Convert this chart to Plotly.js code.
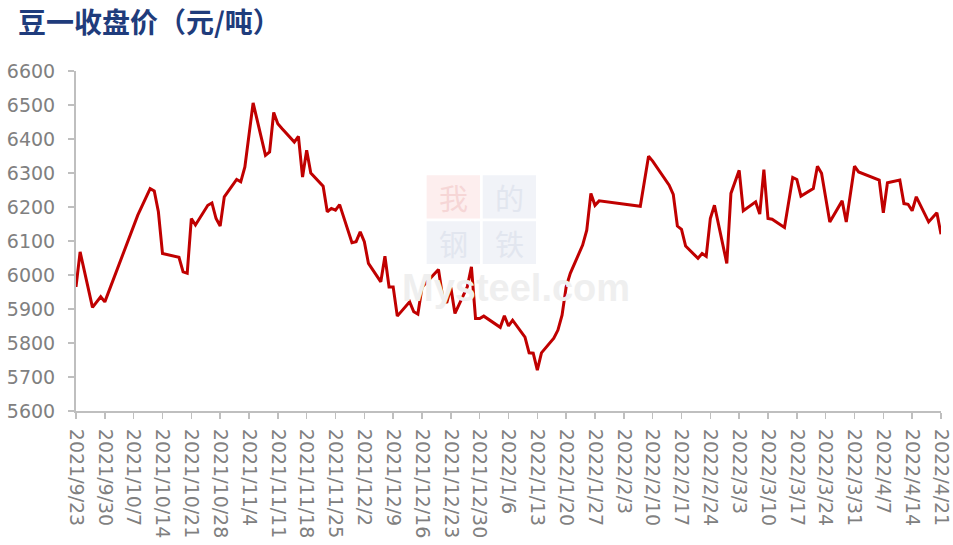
<!DOCTYPE html>
<html>
<head>
<meta charset="utf-8">
<script src="https://cdn.plot.ly/plotly-3.0.1.min.js"></script>
<style>
  html, body { margin: 0; padding: 0; background: #ffffff; }
  #chart { width: 953px; height: 545px; }
</style>
</head>
<body>
<div id="chart"></div>
<script>
// ---- Data ----
const chartTitle = "豆一收盘价（元/吨）";

const dates = [
  "2021-09-23","2021-09-24","2021-09-27","2021-09-29","2021-09-30",
  "2021-10-08","2021-10-11","2021-10-12","2021-10-13","2021-10-14",
  "2021-10-18","2021-10-19","2021-10-20","2021-10-21","2021-10-22",
  "2021-10-25","2021-10-26","2021-10-27","2021-10-28","2021-10-29",
  "2021-11-01","2021-11-02","2021-11-03","2021-11-05",
  "2021-11-08","2021-11-09","2021-11-10","2021-11-11","2021-11-12",
  "2021-11-15","2021-11-16","2021-11-17","2021-11-18","2021-11-19",
  "2021-11-22","2021-11-23","2021-11-24","2021-11-25","2021-11-26",
  "2021-11-29","2021-11-30","2021-12-01","2021-12-02","2021-12-03",
  "2021-12-06","2021-12-07","2021-12-08","2021-12-09","2021-12-10",
  "2021-12-13","2021-12-14","2021-12-15","2021-12-16","2021-12-17",
  "2021-12-20","2021-12-21","2021-12-22","2021-12-23","2021-12-24",
  "2021-12-27","2021-12-28","2021-12-29","2021-12-30","2021-12-31",
  "2022-01-04","2022-01-05","2022-01-06","2022-01-07",
  "2022-01-10","2022-01-11","2022-01-12","2022-01-13","2022-01-14",
  "2022-01-17","2022-01-18","2022-01-19","2022-01-20","2022-01-21",
  "2022-01-24","2022-01-25","2022-01-26","2022-01-27","2022-01-28",
  "2022-02-07","2022-02-09","2022-02-10",
  "2022-02-14","2022-02-15","2022-02-16","2022-02-17","2022-02-18",
  "2022-02-21","2022-02-22","2022-02-23","2022-02-24","2022-02-25",
  "2022-02-28","2022-03-01","2022-03-03","2022-03-04",
  "2022-03-07","2022-03-08","2022-03-09","2022-03-10","2022-03-11",
  "2022-03-14","2022-03-16","2022-03-17","2022-03-18",
  "2022-03-21","2022-03-22","2022-03-23","2022-03-25",
  "2022-03-28","2022-03-29","2022-03-31","2022-04-01",
  "2022-04-06","2022-04-07","2022-04-08",
  "2022-04-11","2022-04-12","2022-04-13","2022-04-14","2022-04-15",
  "2022-04-18","2022-04-20","2022-04-21"
];

const closePrices = [
  5965,6068,5905,5936,5921,
  6176,6254,6247,6186,6063,
  6052,6009,6005,6166,6147,
  6205,6212,6166,6144,6230,
  6281,6274,6318,6506,
  6352,6362,6478,6445,6431,
  6391,6408,6288,6367,6300,
  6261,6186,6196,6191,6207,
  6095,6098,6127,6098,6034,
  5980,6055,5965,5965,5879,
  5921,5892,5885,5964,5977,
  6016,5936,5918,5963,5887,
  5965,6024,5872,5872,5879,
  5846,5880,5850,5867,
  5817,5771,5770,5720,5771,
  5814,5838,5882,5965,6005,
  6088,6132,6240,6205,6218,
  6202,6349,6335,
  6264,6237,6144,6134,6085,
  6049,6063,6055,6166,6205,
  6034,6240,6308,6189,
  6215,6179,6310,6166,6164,
  6140,6287,6281,6232,
  6254,6320,6299,6156,
  6218,6156,6320,6303,
  6279,6183,6271,
  6279,6210,6208,6189,6230,
  6156,6183,6120
];

const xRange = ["2021-09-23", "2022-04-21"];
const yRange = [5600, 6600];
const yTickStep = 100;
const xTickStart = "2021-09-23";
const xTickDays = 7;

// ---- Chart ----
const axisGray = "#bfbfbf";
const labelGray = "#808080";
const tickFont = { family: "DejaVu Sans, sans-serif", size: 19, color: labelGray };

const trace = {
  type: "scatter",
  mode: "lines",
  x: dates,
  y: closePrices,
  line: { color: "#C00000", width: 3 },
  hoverinfo: "x+y"
};

const wmChar = { family: "Noto Sans CJK SC", size: 29, color: "#e2e6ef" };

const layout = {
  width: 953,
  height: 545,
  paper_bgcolor: "#ffffff",
  plot_bgcolor: "#ffffff",
  margin: { l: 76, r: 12, t: 71, b: 134, pad: 0 },
  showlegend: false,
  title: {
    text: "<b>" + chartTitle + "</b>",
    font: { family: "Noto Sans CJK SC, sans-serif", size: 28, color: "#1f3c7c" },
    xref: "container", yref: "container",
    x: 18 / 953, xanchor: "left",
    y: 1 - 23 / 545, yanchor: "middle"
  },
  xaxis: {
    type: "date",
    range: xRange,
    tick0: xTickStart,
    dtick: xTickDays * 86400000,
    tickformat: "%Y/%-m/%-d",
    tickangle: 90,
    ticks: "outside",
    ticklen: 6,
    tickwidth: 1.5,
    tickcolor: axisGray,
    showline: true,
    linecolor: axisGray,
    linewidth: 2,
    showgrid: false,
    zeroline: false,
    tickfont: tickFont,
    ticklabelstandoff: 6
  },
  yaxis: {
    range: yRange,
    tick0: yRange[0],
    dtick: yTickStep,
    ticks: "outside",
    ticklen: 6,
    tickwidth: 1.5,
    tickcolor: axisGray,
    showline: true,
    linecolor: axisGray,
    linewidth: 2,
    showgrid: false,
    zeroline: false,
    tickfont: tickFont,
    ticklabelstandoff: 9
  },
  shapes: [
    { type: "rect", xref: "paper", yref: "paper", x0: 0.4054, x1: 0.4671, y0: 0.5663, y1: 0.6935,
      fillcolor: "#fdeeee", line: { width: 0 }, layer: "below" },
    { type: "rect", xref: "paper", yref: "paper", x0: 0.4702, x1: 0.5318, y0: 0.5663, y1: 0.6935,
      fillcolor: "#f1f3f8", line: { width: 0 }, layer: "below" },
    { type: "rect", xref: "paper", yref: "paper", x0: 0.4054, x1: 0.4671, y0: 0.432, y1: 0.5583,
      fillcolor: "#f1f3f8", line: { width: 0 }, layer: "below" },
    { type: "rect", xref: "paper", yref: "paper", x0: 0.4702, x1: 0.5318, y0: 0.432, y1: 0.5583,
      fillcolor: "#f1f3f8", line: { width: 0 }, layer: "below" }
  ],
  annotations: [
    { text: "我", xref: "paper", yref: "paper", x: 0.4362, y: 0.630, showarrow: false,
      font: { family: "Noto Sans CJK SC", size: 29, color: "#f6d6d6" } },
    { text: "的", xref: "paper", yref: "paper", x: 0.5010, y: 0.630, showarrow: false, font: wmChar },
    { text: "钢", xref: "paper", yref: "paper", x: 0.4362, y: 0.495, showarrow: false, font: wmChar },
    { text: "铁", xref: "paper", yref: "paper", x: 0.5010, y: 0.495, showarrow: false, font: wmChar },
    { text: "<b>Mysteel.com</b>", xref: "paper", yref: "paper", x: 0.509, y: 0.362, showarrow: false,
      font: { family: "Liberation Sans, Arial", size: 38, color: "#efefef" } }
  ]
};

Plotly.newPlot("chart", [trace], layout, { displayModeBar: false, staticPlot: true });
</script>
</body>
</html>
